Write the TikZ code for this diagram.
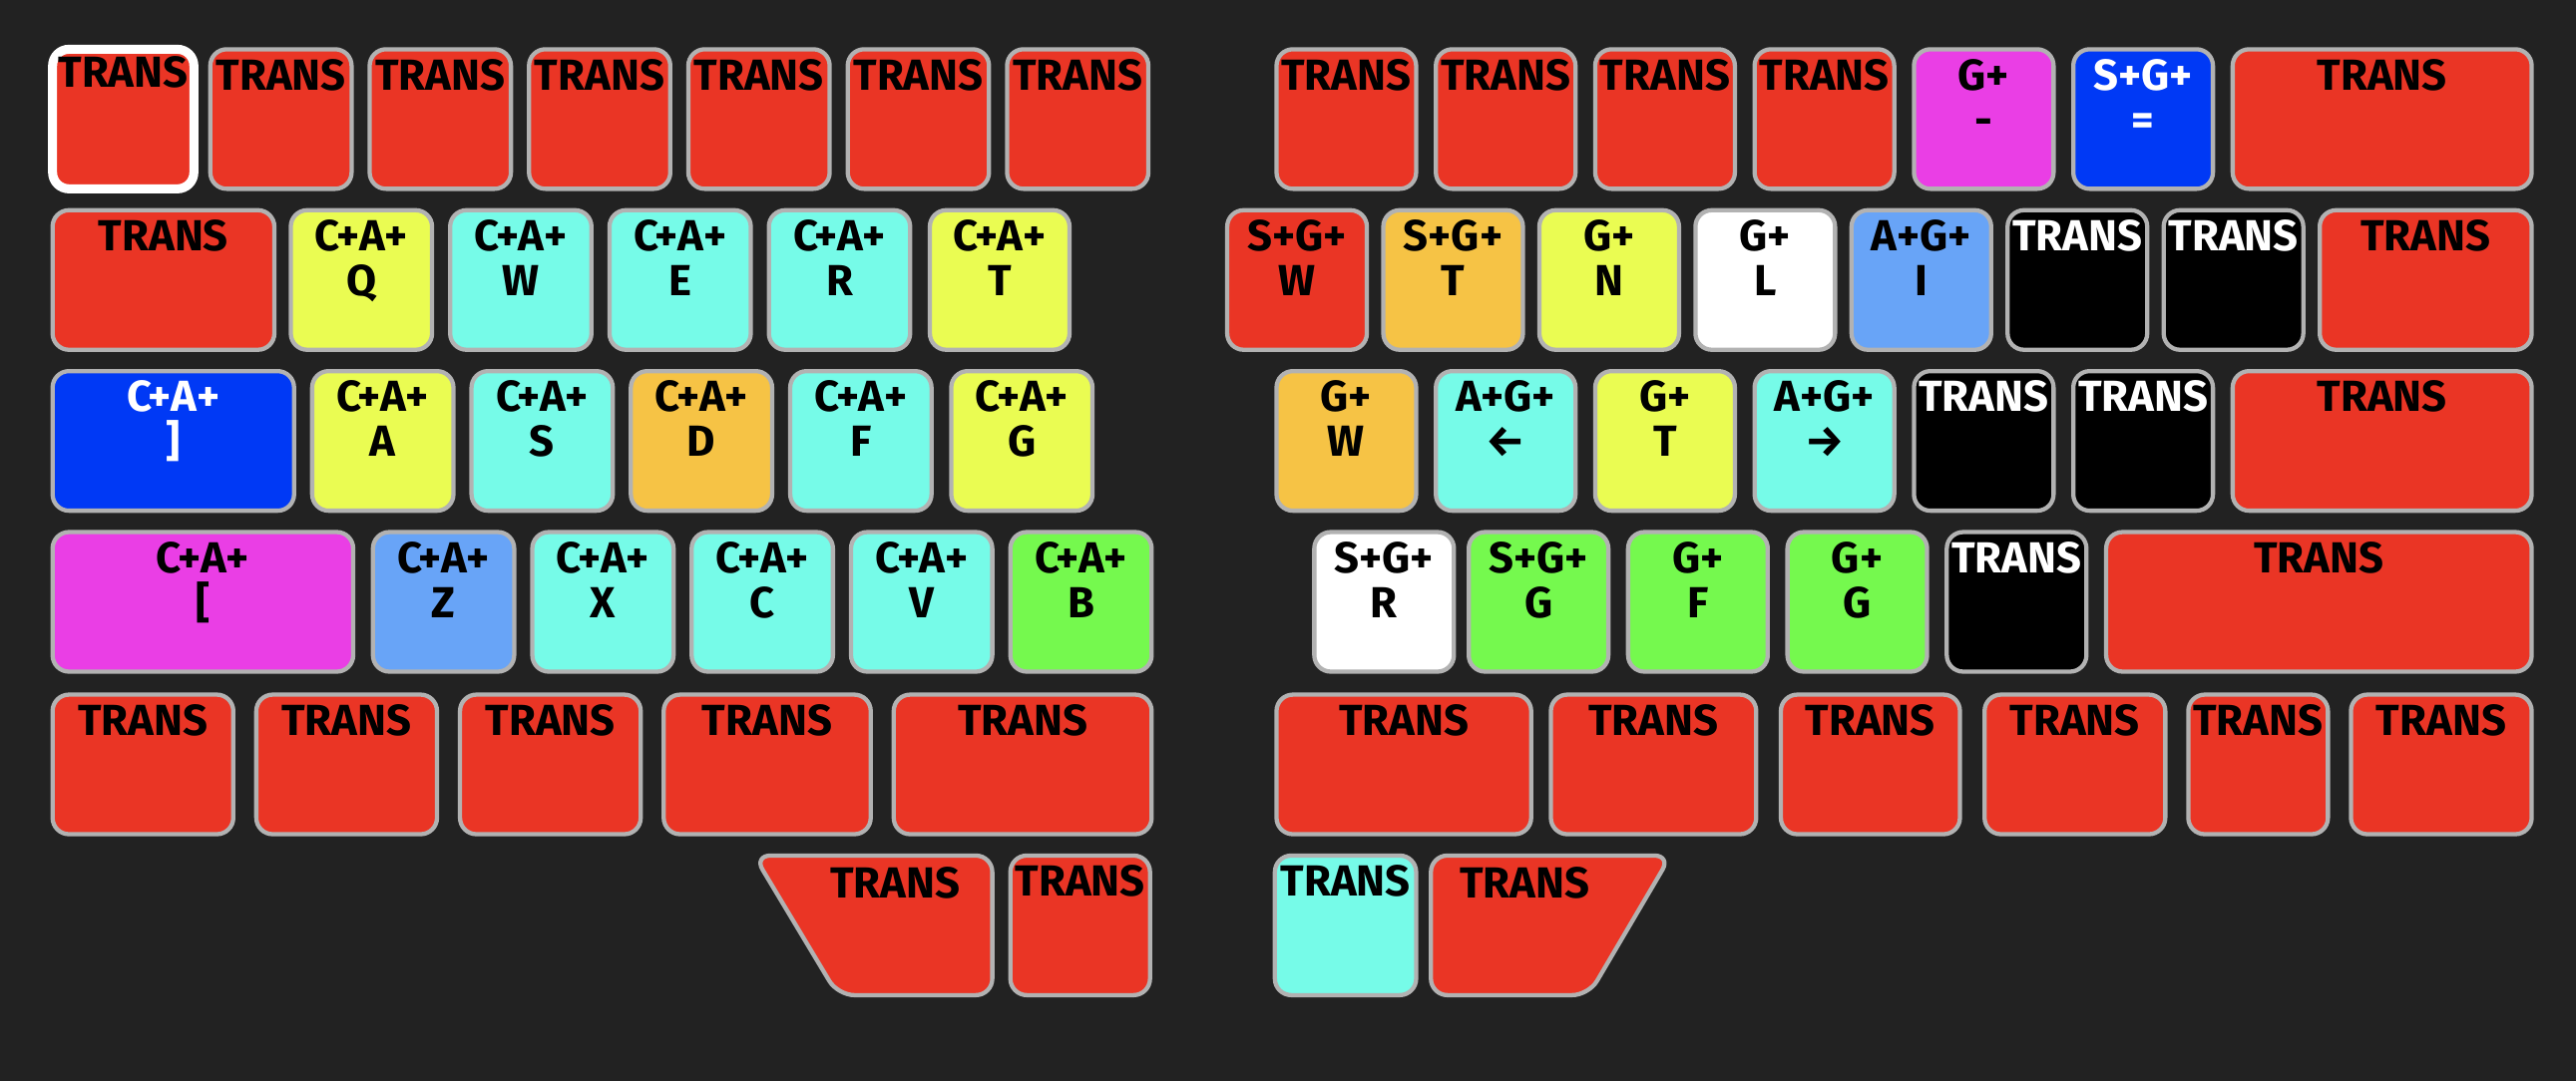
\documentclass[tikz,border=0pt]{standalone}
\usepackage{fontspec}
\setmainfont{Fira Sans}
\usetikzlibrary{positioning}
\definecolor{bg}{HTML}{222222}
\definecolor{keyedge}{HTML}{B2B2B2}
\definecolor{kred}{HTML}{EA3525}
\definecolor{kyellow}{HTML}{EAFC52}
\definecolor{kcyan}{HTML}{76FBE8}
\definecolor{korange}{HTML}{F6C345}
\definecolor{kblue}{HTML}{0039F5}
\definecolor{kmagenta}{HTML}{EA3EE5}
\definecolor{klblue}{HTML}{68A4F7}
\definecolor{kgreen}{HTML}{75F94E}
\begin{document}
\begin{tikzpicture}[x=1pt,y=-1pt,
    key/.style={draw=keyedge, line width=2.6pt, rounded corners=10pt, inner sep=0pt, minimum height=85pt},
    lbl/.style={font=\fontsize{26.5}{27.3}\selectfont\bfseries, align=center, inner sep=0pt}]
  \fill[bg] (0,0) rectangle (1568,658);
  \useasboundingbox (0,0) rectangle (1568,658);

  % left half
  \node[key, fill=kred, draw=white, line width=5.5pt, minimum width=86pt] (L1-1) at (75,72.5) {};
  \node[lbl, below=7pt of L1-1.north] (L1-1-t) {TRANS};
  \foreach \l/\r/\c/\tc/\t [count=\i from 2] in {128/214/kred/black/TRANS, 225/311/kred/black/TRANS,
      322/408/kred/black/TRANS, 419/505/kred/black/TRANS, 516/602/kred/black/TRANS, 613/699/kred/black/TRANS}{
    \node[key, fill=\c, minimum width=\r pt-\l pt] (L1-\i) at ({(\l+\r)/2},72.5) {};
    \node[lbl, text=\tc, below=7pt of L1-\i.north] (L1-\i-t) {\t};
  }
  \foreach \l/\r/\c/\tc/\t [count=\i] in {32/167/kred/black/TRANS, 177/263/kyellow/black/{C+A+\\Q},
      274/360/kcyan/black/{C+A+\\W}, 371/457/kcyan/black/{C+A+\\E}, 468/554/kcyan/black/{C+A+\\R},
      566/651/kyellow/black/{C+A+\\T}}{
    \node[key, fill=\c, minimum width=\r pt-\l pt] (L2-\i) at ({(\l+\r)/2},170.5) {};
    \node[lbl, text=\tc, below=7pt of L2-\i.north] (L2-\i-t) {\t};
  }
  \foreach \l/\r/\c/\tc/\t [count=\i] in {32/179/kblue/white/{C+A+\\]}, 190/276/kyellow/black/{C+A+\\A},
      287/373/kcyan/black/{C+A+\\S}, 384/470/korange/black/{C+A+\\D}, 481/567/kcyan/black/{C+A+\\F},
      579/665/kyellow/black/{C+A+\\G}}{
    \node[key, fill=\c, minimum width=\r pt-\l pt] (L3-\i) at ({(\l+\r)/2},268.5) {};
    \node[lbl, text=\tc, below=7pt of L3-\i.north] (L3-\i-t) {\t};
  }
  \foreach \l/\r/\c/\tc/\t [count=\i] in {32/215/kmagenta/black/{C+A+\\{}[}, 227/313/klblue/black/{C+A+\\Z},
      324/410/kcyan/black/{C+A+\\X}, 421/507/kcyan/black/{C+A+\\C}, 518/604/kcyan/black/{C+A+\\V},
      615/701/kgreen/black/{C+A+\\B}}{
    \node[key, fill=\c, minimum width=\r pt-\l pt] (L4-\i) at ({(\l+\r)/2},366.5) {};
    \node[lbl, text=\tc, below=7pt of L4-\i.north] (L4-\i-t) {\t};
  }
  \foreach \l/\r/\c/\tc/\t [count=\i] in {32/142/kred/black/TRANS, 156/266/kred/black/TRANS,
      280/390/kred/black/TRANS, 404/530/kred/black/TRANS, 544/701/kred/black/TRANS}{
    \node[key, fill=\c, minimum width=\r pt-\l pt] (L5-\i) at ({(\l+\r)/2},465.5) {};
    \node[lbl, text=\tc, below=7pt of L5-\i.north] (L5-\i-t) {\t};
  }
  % left thumbs
  \draw[draw=keyedge, fill=kred, line width=2.6pt, rounded corners=10pt]
    (459,521) -- (604,521) -- (604,606) -- (510,606) -- cycle;
  \node[lbl, anchor=north] (L6-1-t) at (545,528) {TRANS};
  \node[key, fill=kred, minimum width=85pt] (L6-2) at (657.5,563.5) {};
  \node[lbl, below=7pt of L6-2.north] (L6-2-t) {TRANS};

  % right half
  \foreach \l/\r/\c/\tc/\t [count=\i] in {777/862/kred/black/TRANS, 874/959/kred/black/TRANS,
      971/1056/kred/black/TRANS, 1068/1153/kred/black/TRANS, 1165/1250/kmagenta/black/{G+\\-},
      1262/1347/kblue/white/{S+G+\\=}, 1359/1541/kred/black/TRANS}{
    \node[key, fill=\c, minimum width=\r pt-\l pt] (R1-\i) at ({(\l+\r)/2},72.5) {};
    \node[lbl, text=\tc, below=7pt of R1-\i.north] (R1-\i-t) {\t};
  }
  \foreach \l/\r/\c/\tc/\t [count=\i] in {747/832/kred/black/{S+G+\\W}, 842/927/korange/black/{S+G+\\T},
      937/1022/kyellow/black/{G+\\N}, 1032/1117/white/black/{G+\\L}, 1127/1212/klblue/black/{A+G+\\I},
      1222/1307/black/white/TRANS, 1317/1402/black/white/TRANS, 1412/1541/kred/black/TRANS}{
    \node[key, fill=\c, minimum width=\r pt-\l pt] (R2-\i) at ({(\l+\r)/2},170.5) {};
    \node[lbl, text=\tc, below=7pt of R2-\i.north] (R2-\i-t) {\t};
  }
  \foreach \l/\r/\c/\tc/\t [count=\i] in {777/862/korange/black/{G+\\W}, 874/959/kcyan/black/{A+G+\\←},
      971/1056/kyellow/black/{G+\\T}, 1068/1153/kcyan/black/{A+G+\\→}, 1165/1250/black/white/TRANS,
      1262/1347/black/white/TRANS, 1359/1541/kred/black/TRANS}{
    \node[key, fill=\c, minimum width=\r pt-\l pt] (R3-\i) at ({(\l+\r)/2},268.5) {};
    \node[lbl, text=\tc, below=7pt of R3-\i.north] (R3-\i-t) {\t};
  }
  \foreach \l/\r/\c/\tc/\t [count=\i] in {800/885/white/black/{S+G+\\R}, 894/979/kgreen/black/{S+G+\\G},
      991/1076/kgreen/black/{G+\\F}, 1088/1173/kgreen/black/{G+\\G}, 1185/1270/black/white/TRANS,
      1282/1541/kred/black/TRANS}{
    \node[key, fill=\c, minimum width=\r pt-\l pt] (R4-\i) at ({(\l+\r)/2},366.5) {};
    \node[lbl, text=\tc, below=7pt of R4-\i.north] (R4-\i-t) {\t};
  }
  \foreach \l/\r/\c/\tc/\t [count=\i] in {777/932/kred/black/TRANS, 944/1069/kred/black/TRANS,
      1084/1193/kred/black/TRANS, 1208/1318/kred/black/TRANS, 1332/1417/kred/black/TRANS,
      1431/1541/kred/black/TRANS}{
    \node[key, fill=\c, minimum width=\r pt-\l pt] (R5-\i) at ({(\l+\r)/2},465.5) {};
    \node[lbl, text=\tc, below=7pt of R5-\i.north] (R5-\i-t) {\t};
  }
  % right thumbs
  \node[key, fill=kcyan, minimum width=86pt] (R6-1) at (819,563.5) {};
  \node[lbl, below=7pt of R6-1.north] (R6-1-t) {TRANS};
  \draw[draw=keyedge, fill=kred, line width=2.6pt, rounded corners=10pt]
    (871,521) -- (1017,521) -- (967,606) -- (871,606) -- cycle;
  \node[lbl, anchor=north] (R6-2-t) at (928,528) {TRANS};
\end{tikzpicture}
\end{document}
